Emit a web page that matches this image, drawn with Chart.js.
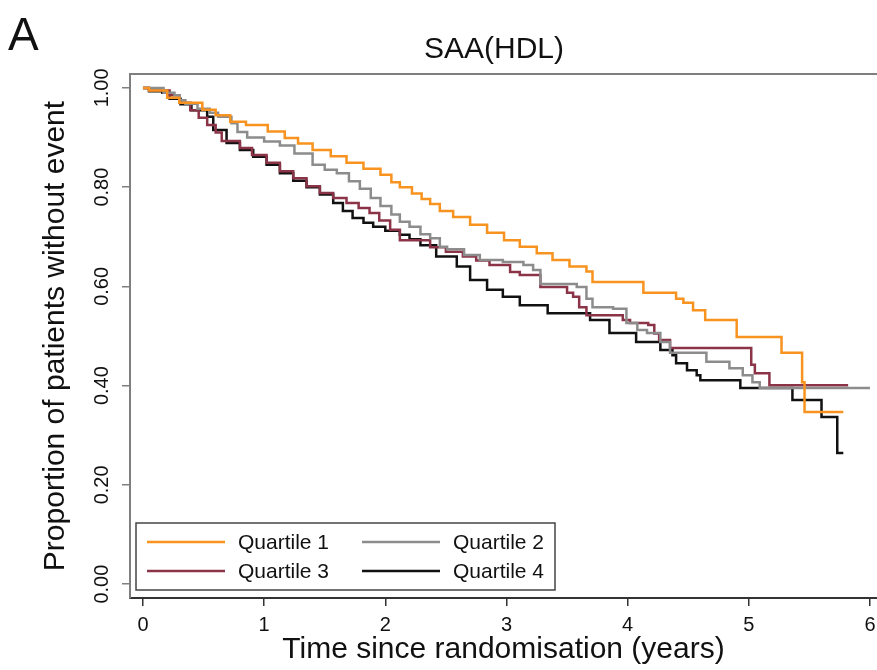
<!DOCTYPE html>
<html>
<head>
<meta charset="utf-8">
<script src="https://cdn.jsdelivr.net/npm/chart.js@4.4.0/dist/chart.umd.min.js"></script>
<style>
html, body { margin: 0; padding: 0; background: #fff; }
</style>
</head>
<body>
<canvas id="kmChart" width="877" height="670"></canvas>
<script>
// Kaplan-Meier steps: time (years) and proportion without event
var q1Times = [0, 0.05, 0.2, 0.3, 0.49, 0.6, 0.72, 0.85, 1.03, 1.17, 1.28, 1.4, 1.55, 1.68, 1.82, 1.96, 2.05, 2.12, 2.22, 2.3, 2.37, 2.45, 2.56, 2.7, 2.84, 2.98, 3.11, 3.25, 3.38, 3.52, 3.66, 3.71, 4.13, 4.4, 4.46, 4.54, 4.64, 4.9, 5.27, 5.44, 5.46, 5.78];
var q1Surv  = [1.0, 0.995, 0.98, 0.97, 0.956, 0.945, 0.932, 0.925, 0.912, 0.899, 0.888, 0.875, 0.862, 0.849, 0.837, 0.825, 0.81, 0.8, 0.787, 0.776, 0.766, 0.752, 0.74, 0.724, 0.708, 0.693, 0.68, 0.667, 0.653, 0.64, 0.63, 0.609, 0.587, 0.575, 0.567, 0.552, 0.532, 0.498, 0.466, 0.407, 0.347, 0.347];

var q2Times = [0, 0.17, 0.26, 0.3, 0.35, 0.45, 0.55, 0.62, 0.73, 0.78, 0.86, 1.0, 1.13, 1.25, 1.4, 1.5, 1.6, 1.7, 1.79, 1.88, 1.96, 2.05, 2.12, 2.2, 2.29, 2.37, 2.45, 2.51, 2.65, 2.78, 2.97, 3.14, 3.22, 3.28, 3.58, 3.66, 3.71, 3.88, 3.99, 4.08, 4.16, 4.27, 4.35, 4.65, 4.84, 4.95, 5.03, 5.09, 6.0];
var q2Surv  = [1.0, 0.99, 0.985, 0.975, 0.968, 0.958, 0.95, 0.942, 0.929, 0.911, 0.9, 0.892, 0.884, 0.868, 0.845, 0.835, 0.828, 0.812, 0.797, 0.778, 0.762, 0.745, 0.73, 0.72, 0.705, 0.697, 0.68, 0.675, 0.663, 0.653, 0.649, 0.643, 0.633, 0.605, 0.599, 0.575, 0.558, 0.555, 0.526, 0.512, 0.506, 0.488, 0.466, 0.448, 0.435, 0.421, 0.407, 0.395, 0.395];

var q3Times = [0, 0.05, 0.22, 0.3, 0.39, 0.46, 0.53, 0.6, 0.65, 0.8, 0.9, 1.02, 1.13, 1.24, 1.35, 1.46, 1.57, 1.68, 1.78, 1.87, 1.95, 2.04, 2.12, 2.37, 2.5, 2.64, 2.75, 2.86, 3.03, 3.11, 3.28, 3.5, 3.55, 3.6, 3.66, 3.96, 4.02, 4.17, 4.22, 4.26, 4.35, 5.02, 5.05, 5.17, 5.82];
var q3Surv  = [1.0, 0.995, 0.985, 0.97, 0.955, 0.94, 0.925, 0.91, 0.893, 0.879, 0.865, 0.849, 0.832, 0.818, 0.802, 0.788, 0.778, 0.768, 0.758, 0.748, 0.733, 0.714, 0.693, 0.679, 0.67, 0.66, 0.652, 0.643, 0.629, 0.623, 0.599, 0.587, 0.579, 0.558, 0.542, 0.532, 0.526, 0.522, 0.505, 0.492, 0.476, 0.442, 0.425, 0.401, 0.401];

var q4Times = [0, 0.05, 0.16, 0.22, 0.31, 0.4, 0.53, 0.58, 0.69, 0.8, 0.91, 1.02, 1.13, 1.24, 1.35, 1.46, 1.57, 1.65, 1.73, 1.82, 1.9, 2.0, 2.12, 2.2, 2.29, 2.42, 2.59, 2.7, 2.84, 2.97, 3.11, 3.34, 3.69, 3.85, 4.07, 4.27, 4.37, 4.4, 4.49, 4.57, 4.6, 4.93, 5.36, 5.6, 5.73, 5.78];
var q4Surv  = [1.0, 0.993, 0.99, 0.978, 0.967, 0.955, 0.942, 0.915, 0.889, 0.875, 0.861, 0.845, 0.828, 0.813, 0.8, 0.785, 0.768, 0.752, 0.738, 0.728, 0.72, 0.712, 0.704, 0.695, 0.683, 0.66, 0.64, 0.613, 0.593, 0.579, 0.562, 0.546, 0.532, 0.506, 0.488, 0.472, 0.461, 0.445, 0.431, 0.421, 0.411, 0.395, 0.371, 0.337, 0.264, 0.264];

var seriesNames = ['Quartile 1', 'Quartile 2', 'Quartile 3', 'Quartile 4'];
var seriesColors = ['#f7931e', '#8c8c8c', '#8b3447', '#111111'];
var xTicks = [0, 1, 2, 3, 4, 5, 6];
var yTicks = [0, 0.2, 0.4, 0.6, 0.8, 1.0];

var FONT = "'Liberation Sans', Arial, sans-serif";

function toPoints(times, surv) {
    return times.map(function (t, i) { return { x: t, y: surv[i] }; });
}

var allTimes = [q1Times, q2Times, q3Times, q4Times];
var allSurv = [q1Surv, q2Surv, q3Surv, q4Surv];

var datasets = seriesNames.map(function (name, i) {
    return {
        label: name,
        data: toPoints(allTimes[i], allSurv[i]),
        borderColor: seriesColors[i],
        backgroundColor: seriesColors[i],
        borderWidth: 2.5,
        stepped: 'before',
        pointRadius: 0,
        fill: false
    };
});

// frame top, panel letter, title and the boxed legend
var extrasPlugin = {
    id: 'extras',
    afterDraw: function (chart) {
        var ctx = chart.ctx;
        var area = chart.chartArea;
        ctx.save();

        ctx.strokeStyle = '#7f7f7f';
        ctx.lineWidth = 2;
        ctx.beginPath();
        ctx.moveTo(area.left, area.top);
        ctx.lineTo(area.right, area.top);
        ctx.stroke();

        ctx.fillStyle = '#111';
        ctx.textBaseline = 'alphabetic';
        ctx.textAlign = 'left';
        ctx.font = '46px ' + FONT;
        ctx.fillText('A', 8, 50);

        ctx.textAlign = 'center';
        ctx.font = '30px ' + FONT;
        ctx.fillText('SAA(HDL)', 494, 58);

        // legend box
        var bx = 136, by = 523, bw = 419, bh = 67;
        ctx.strokeStyle = '#444';
        ctx.lineWidth = 1.5;
        ctx.strokeRect(bx, by, bw, bh);

        var cols = [147, 362];
        var rows = [542, 571];
        ctx.font = '21px ' + FONT;
        ctx.textAlign = 'left';
        ctx.textBaseline = 'middle';
        chart.data.datasets.forEach(function (ds, i) {
            var cx = cols[i % 2];
            var cy = rows[Math.floor(i / 2)];
            ctx.strokeStyle = ds.borderColor;
            ctx.lineWidth = 2.5;
            ctx.beginPath();
            ctx.moveTo(cx, cy);
            ctx.lineTo(cx + 78, cy);
            ctx.stroke();
            ctx.fillStyle = '#111';
            ctx.fillText(ds.label, cx + 91, cy + 1);
        });
        ctx.restore();
    }
};

var ctx = document.getElementById('kmChart').getContext('2d');

var kmChart = new Chart(ctx, {
    type: 'line',
    data: { datasets: datasets },
    options: {
        responsive: false,
        animation: false,
        devicePixelRatio: 1,
        layout: { padding: { top: 74, left: 0, right: 0, bottom: 0 } },
        plugins: {
            legend: { display: false },
            tooltip: { enabled: false },
            title: { display: false }
        },
        scales: {
            x: {
                type: 'linear',
                min: -0.107,
                max: 6.058,
                afterBuildTicks: function (scale) {
                    scale.ticks = xTicks.map(function (v) { return { value: v }; });
                },
                afterFit: function (scale) {
                    scale.height = 72;
                    scale.paddingLeft = 0;
                    scale.paddingRight = 0;
                },
                grid: { drawOnChartArea: false, drawTicks: true, tickLength: 8, color: '#333', lineWidth: 1.5 },
                border: { display: true, color: '#333', width: 2 },
                ticks: {
                    font: { family: FONT, size: 20 },
                    color: '#111',
                    padding: 7,
                    maxRotation: 0,
                    autoSkip: false,
                    callback: function (v) { return String(v); }
                },
                title: {
                    display: true,
                    text: 'Time since randomisation (years)',
                    font: { family: FONT, size: 30 },
                    color: '#111',
                    padding: { top: 0, bottom: 2 }
                }
            },
            y: {
                type: 'linear',
                min: -0.028,
                max: 1.028,
                afterBuildTicks: function (scale) {
                    scale.ticks = yTicks.map(function (v) { return { value: v }; });
                },
                afterFit: function (scale) {
                    scale.width = 130;
                    scale.paddingTop = 0;
                    scale.paddingBottom = 0;
                },
                grid: { drawOnChartArea: false, drawTicks: true, tickLength: 8, color: '#7f7f7f', lineWidth: 1.5 },
                border: { display: true, color: '#7f7f7f', width: 2 },
                ticks: {
                    font: { family: FONT, size: 20 },
                    color: '#111',
                    padding: 0,
                    minRotation: 90,
                    maxRotation: 90,
                    crossAlign: 'center',
                    autoSkip: false,
                    callback: function (v) { return Number(v).toFixed(2); }
                },
                title: {
                    display: true,
                    text: 'Proportion of patients without event',
                    font: { family: FONT, size: 30 },
                    color: '#111',
                    padding: { top: 38, bottom: 0 }
                }
            }
        }
    },
    plugins: [extrasPlugin]
});
</script>
</body>
</html>
